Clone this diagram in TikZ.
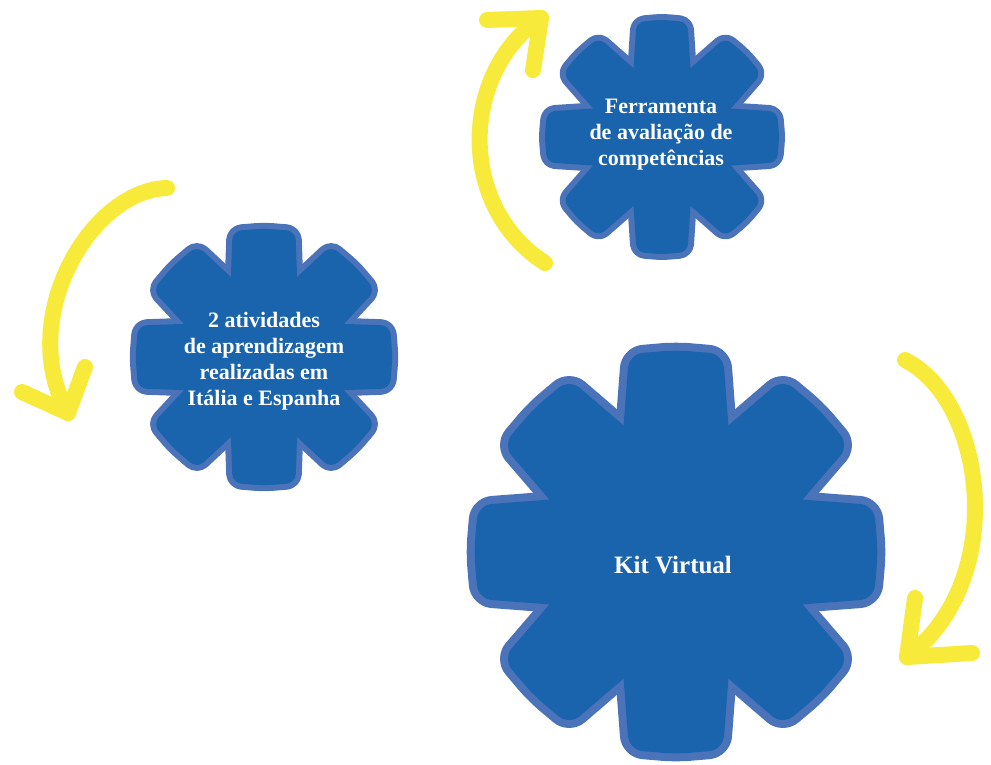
\documentclass[tikz,border=0pt]{standalone}
\usepackage{fontspec}
\setmainfont{Liberation Serif}
\definecolor{gfill}{HTML}{1A63AD}
\definecolor{gline}{HTML}{4A73B9}
\definecolor{arrowy}{HTML}{F7EA3B}
\tikzset{
  gearrim/.style={fill=gline, draw=gline, line join=round},
  gearbody/.style={fill=gfill},
  yarrow/.style={draw=arrowy, line width=16pt, line cap=round, line join=round},
  gtext/.style={text=white, align=center, font=\bfseries\fontsize{22}{26}\selectfont}
}
% #1 cx, #2 cy, #3 R, #4 half tooth width at tip, #5 notch distance, #6 rim width, #7 corner radius
\newcommand\drawgear[7]{%
  \pgfmathsetmacro\gdc{(#5)*cos(22.5)/(#3)}%
  \pgfmathsetmacro\ghb{((#5)*sin(22.5)-(#4)*\gdc)/(1-\gdc)}%
  \pgfmathsetmacro\gm{1.02*(#3)}%
  \pgfmathsetmacro\glw{2*(#6)}%
  \foreach \k in {0,...,7}{
    \draw[gearrim, line width=\glw pt, rounded corners=#7pt, shift={(#1,#2)}, rotate=45*\k]
      (\gm,0) -- (#3,#4) -- (0,\ghb) -- (0,-\ghb) -- (#3,-#4) -- cycle;
  }
  \foreach \k in {0,...,7}{
    \fill[gearbody, rounded corners=#7pt, shift={(#1,#2)}, rotate=45*\k]
      (\gm,0) -- (#3,#4) -- (0,\ghb) -- (0,-\ghb) -- (#3,-#4) -- cycle;
  }
}
\begin{document}
\begin{tikzpicture}[x=1pt,y=-1pt]
\useasboundingbox (0,0) rectangle (991,764);
% arrows
\coordinate (a1s) at (167,188);
\coordinate (a1t) at (68,413);
\draw[yarrow] (a1s) .. controls (90,190) and (15,320) .. (a1t);
\draw[yarrow] (85,367) -- (a1t) -- (22,392);
\coordinate (a2s) at (545,263);
\coordinate (a2t) at (541,18);
\draw[yarrow] (a2s) .. controls (455,205) and (462,70) .. (a2t);
\draw[yarrow] (487,20) -- (a2t) -- (533,70);
\coordinate (a3s) at (905,360);
\coordinate (a3t) at (907,657);
\draw[yarrow] (a3s) .. controls (985,400) and (1010,580) .. (a3t);
\draw[yarrow] (915,598) -- (a3t) -- (972,653);
% gears
\drawgear{264}{357}{126}{31.5}{86.5}{6}{9}
\drawgear{676}{552}{198}{47}{137}{8}{14}
\drawgear{662}{137}{115}{25.5}{74.5}{6}{8}
% texts
\node[gtext] (t1) at (264,361) {2 atividades\\de aprendizagem\\realizadas em\\Itália e Espanha};
\node[gtext, font=\bfseries\fontsize{25}{28}\selectfont] (t2) at (673,565) {Kit Virtual};
\node[gtext] (t3) at (661,135) {Ferramenta\\de avaliação de\\competências};
\end{tikzpicture}
\end{document}
